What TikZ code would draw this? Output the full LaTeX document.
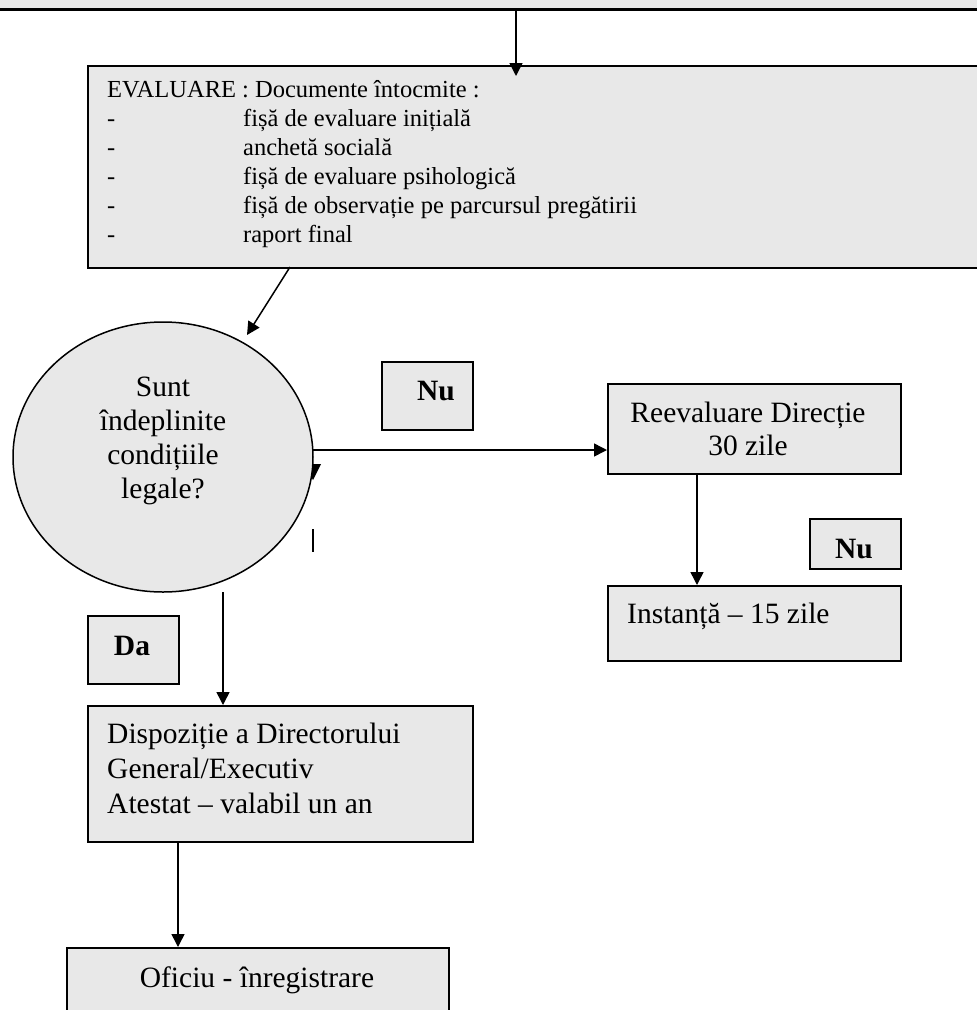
\documentclass[tikz,border=0pt]{standalone}
\usepackage{fontspec}
\setmainfont{Liberation Serif}
\usetikzlibrary{arrows.meta,calc,shapes.geometric}
\definecolor{boxgray}{HTML}{E8E8E8}
\tikzset{
  box/.style={draw=black, fill=boxgray, line width=1.5pt, rectangle, inner sep=0pt, anchor=north west},
  flow/.style={line width=1.5pt, -{Triangle[length=13pt,width=13pt]}},
  bigtext/.style={font=\fontsize{29.5}{34}\selectfont, inner sep=0pt},
  smalltext/.style={font=\fontsize{24.5}{29}\selectfont, inner sep=0pt},
  tagtext/.style={font=\fontsize{29.5}{34}\selectfont\bfseries, inner sep=0pt, anchor=base}
}
\begin{document}
\begin{tikzpicture}[x=1pt,y=-1pt]
\useasboundingbox (0,0) rectangle (977,1010);
\begin{scope}
\clip (0,0) rectangle (977,1010);

% band of the previous step at the top
\fill[boxgray] (-5,-5) rectangle (985,9);
\draw[line width=3pt] (-5,9.5) -- (985,9.5);
\coordinate (topsrc) at (516,11);

% evaluation box with the list of documents
\node[box, minimum width=903pt, minimum height=202pt] (eval) at (87,65) {};
\node[smalltext, anchor=north west, align=left] (evaltext) at (107,80)
  {EVALUARE : Documente întocmite :\\
   \makebox[136pt][l]{-}fișă de evaluare inițială\\
   \makebox[136pt][l]{-}anchetă socială\\
   \makebox[136pt][l]{-}fișă de evaluare psihologică\\
   \makebox[136pt][l]{-}fișă de observație pe parcursul pregătirii\\
   \makebox[136pt][l]{-}raport final};
\coordinate (evalin) at (516,76);
\draw[flow] (topsrc) -- (evalin);

% leftover marks near the decision
\fill (305,464) -- (321,464) -- (313,480) -- cycle;
\draw[line width=1.5pt] (313,529) -- (313,552);

% decision
\node[ellipse, draw=black, fill=boxgray, line width=1.5pt, inner sep=0pt,
      minimum width=300pt, minimum height=270pt] (cond) at (163,457) {};
\node[bigtext, anchor=north, align=center] (condtext) at (163,377)
  {Sunt\\îndeplinite\\condițiile\\legale?};
\coordinate (evalout) at (290,267);
\coordinate (condin) at (247,335);
\draw[flow] (evalout) -- (condin);

% "Nu" branch
\node[box, minimum width=91pt, minimum height=68pt] (nu1) at (381,361) {};
\node[tagtext] (nu1text) at (436,400) {Nu};
\node[box, minimum width=293pt, minimum height=90pt] (reev) at (607,383) {};
\node[bigtext, anchor=north, align=center, font=\fontsize{29.5}{33}\selectfont] (reevtext) at (748,402)
  {Reevaluare Direcție\\30 zile};
\coordinate (condout) at (313,450);
\draw[flow] (condout) -- (condout -| reev.west);

\node[box, minimum width=91pt, minimum height=50pt] (nu2) at (809,518) {};
\node[tagtext] (nu2text) at (854,558) {Nu};
\node[box, minimum width=293pt, minimum height=75pt] (inst) at (607,585) {};
\node[bigtext, anchor=base west] (insttext) at (627,623) {Instanță – 15 zile};
\draw[flow] ($(reev.south west)+(90,0)$) -- ($(inst.north west)+(90,0)$);

% "Da" branch
\node[box, minimum width=91pt, minimum height=68pt] (da) at (87,615) {};
\node[tagtext] (datext) at (132,655) {Da};
\node[box, minimum width=385pt, minimum height=136pt] (disp) at (87,705) {};
\node[bigtext, anchor=north west, align=left, font=\fontsize{29.5}{35}\selectfont] (disptext) at (107,723)
  {Dispoziție a Directorului\\General/Executiv\\Atestat – valabil un an};
\coordinate (conddown) at (223,592);
\draw[flow] (conddown) -- (conddown |- disp.north);

\node[box, minimum width=382pt, minimum height=90pt] (ofic) at (66,947) {};
\node[bigtext, anchor=base] (ofictext) at (257,987) {Oficiu - înregistrare};
\draw[flow] ($(disp.south west)+(91,0)$) -- ($(ofic.north west)+(112,0)$);
\end{scope}
\end{tikzpicture}
\end{document}
